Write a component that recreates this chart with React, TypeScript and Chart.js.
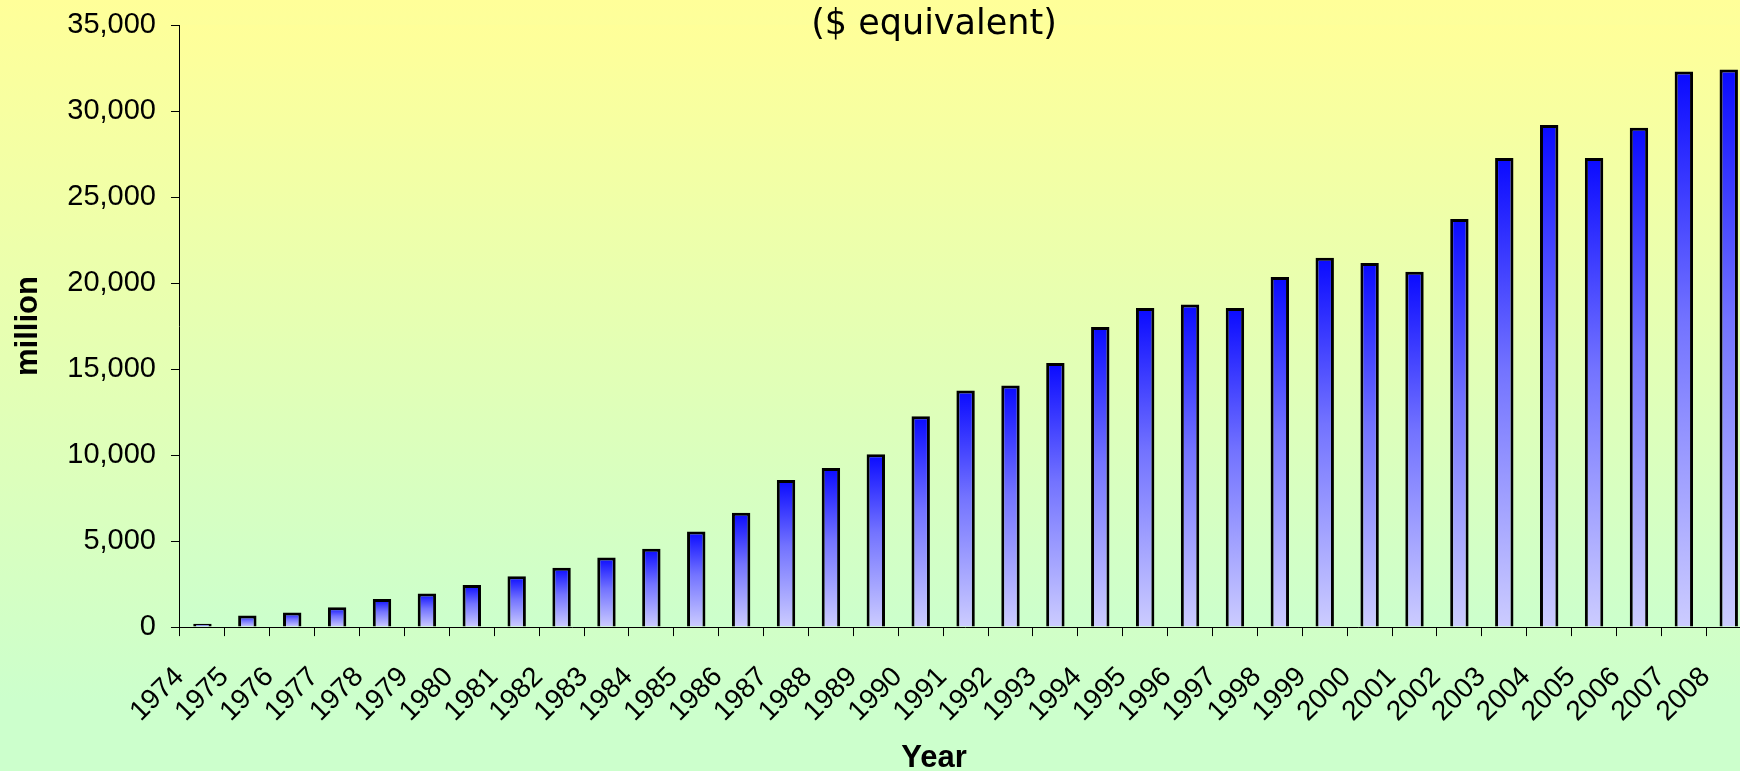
import React, { useEffect, useRef } from "react";
import { Chart, registerables } from "chart.js";

Chart.register(...registerables);

const years = [
  "1974", "1975", "1976", "1977", "1978", "1979", "1980", "1981", "1982", "1983",
  "1984", "1985", "1986", "1987", "1988", "1989", "1990", "1991", "1992", "1993",
  "1994", "1995", "1996", "1997", "1998", "1999", "2000", "2001", "2002", "2003",
  "2004", "2005", "2006", "2007", "2008",
];

const values = [
  200, 680, 850, 1160, 1640, 1950, 2450, 2950, 3450, 4050,
  4550, 5550, 6650, 8550, 9250, 10050, 12250, 13750, 14050, 15350,
  17450, 18550, 18750, 18550, 20350, 21470, 21160, 20660, 23720, 27270,
  29190, 27270, 29030, 32290, 32420,
];

const yMin = 0;
const yMax = 35000;
const yStep = 5000;

const titleText = "($ equivalent)";
const xAxisTitle = "Year";
const yAxisTitle = "million";

const CANVAS_W = 1777;
const CANVAS_H = 771;

export default function App() {
  const ref = useRef<HTMLCanvasElement | null>(null);

  useEffect(() => {
    const canvas = ref.current;
    if (!canvas) return;

    const plotBg = {
      id: "plotBg",
      beforeDraw(chart: any) {
        const { ctx, chartArea: a } = chart;
        if (!a) return;
        const g = ctx.createLinearGradient(0, a.top, 0, a.bottom);
        g.addColorStop(0, "#FFFF99");
        g.addColorStop(1, "#CCFFCC");
        ctx.save();
        ctx.fillStyle = g;
        ctx.fillRect(a.left, a.top, a.right - a.left, a.bottom - a.top);
        ctx.restore();
      },
    };

    const texts = {
      id: "texts",
      afterDraw(chart: any) {
        const ctx = chart.ctx;
        ctx.save();
        ctx.fillStyle = "#000";
        ctx.textAlign = "center";
        ctx.textBaseline = "alphabetic";
        ctx.font = '35px "DejaVu Sans"';
        ctx.fillText(titleText, 934, 34);
        ctx.font = 'bold 31px "Liberation Sans"';
        ctx.fillText(xAxisTitle, 934, 767);
        ctx.restore();
      },
    };

    const barFill = (c: any) => {
      const chart = c.chart;
      const scales = chart.scales;
      if (c.type !== "data" || !scales || !scales.y) return "#6666FF";
      const yTop = scales.y.getPixelForValue(c.raw);
      const yBot = scales.y.getPixelForValue(0);
      if (!isFinite(yTop) || !isFinite(yBot) || yBot - yTop < 1) return "#3333FF";
      const g = chart.ctx.createLinearGradient(0, yTop, 0, yBot);
      g.addColorStop(0, "rgb(10,10,255)");
      g.addColorStop(0.45, "rgb(115,115,255)");
      g.addColorStop(1, "rgb(204,204,255)");
      return g;
    };

    const chart = new Chart(canvas, {
      type: "bar",
      data: {
        labels: years,
        datasets: [
          {
            label: "million",
            data: values,
            backgroundColor: barFill,
            borderColor: "#000000",
            borderWidth: { top: 3, left: 3, right: 3, bottom: 0 },
            borderSkipped: "start",
            categoryPercentage: 1,
            barPercentage: 0.41,
          },
        ],
      },
      options: {
        responsive: false,
        animation: false,
        locale: "en-US",
        layout: { padding: { top: 25, left: 0, right: 0, bottom: 18.1 } },
        plugins: {
          legend: { display: false },
          tooltip: { enabled: false },
          title: { display: false },
        },
        scales: {
          x: {
            offset: true,
            grid: {
              offset: true,
              drawOnChartArea: false,
              drawTicks: true,
              tickLength: 9,
              tickColor: "#000",
            },
            border: { display: true, color: "#000", width: 1 },
            ticks: {
              autoSkip: false,
              maxRotation: 45,
              minRotation: 45,
              padding: 24.5,
              labelOffset: -23,
              color: "#000",
              font: { family: '"Liberation Sans", Arial, sans-serif', size: 28 },
            },
          },
          y: {
            min: yMin,
            max: yMax,
            grid: {
              drawOnChartArea: false,
              drawTicks: true,
              tickLength: 9,
              tickColor: "#000",
            },
            border: { display: true, color: "#000", width: 1 },
            ticks: {
              stepSize: yStep,
              padding: 15,
              color: "#000",
              font: { family: '"Liberation Sans", Arial, sans-serif', size: 29, lineHeight: 0.68 },
            },
            title: {
              display: true,
              text: yAxisTitle,
              color: "#000",
              padding: { top: 10, bottom: 5.1 },
              font: { family: '"Liberation Sans", Arial, sans-serif', size: 31, weight: "bold" },
            },
          },
        },
      },
      plugins: [plotBg, texts],
    } as any);

    return () => {
      chart.destroy();
    };
  }, []);

  return (
    <div
      style={{
        position: "fixed",
        left: 0,
        top: 0,
        width: 1740,
        height: 771,
        overflow: "hidden",
        background: "linear-gradient(to bottom, #FFFF99 0px, #CCFFCC 700px, #CCFFCC 771px)",
      }}
    >
      <canvas
        ref={ref}
        width={CANVAS_W}
        height={CANVAS_H}
        style={{ display: "block", width: CANVAS_W, height: CANVAS_H }}
      />
    </div>
  );
}
